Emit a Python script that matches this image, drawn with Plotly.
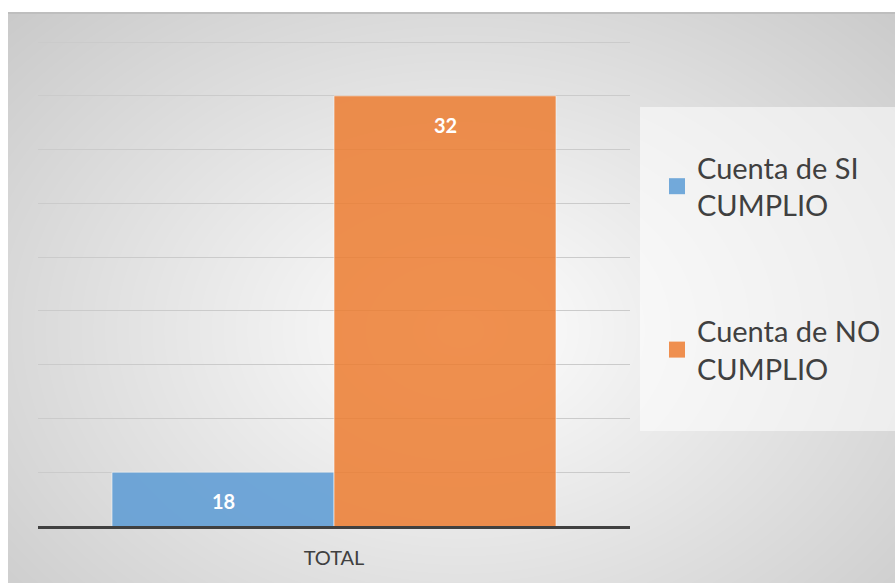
import base64, struct, zlib
import numpy as np
import plotly.graph_objects as go

# ---- data ----
categories = ["TOTAL"]
series_names = ["Cuenta de SI<br>CUMPLIO", "Cuenta de NO<br>CUMPLIO"]
series_values = [[18], [32]]
series_colors = ["#5B9BD5", "#ED7D31"]
y_min, y_max, y_step = 16, 34, 2

W, H = 895, 583
L, R, T, B = 38, 265, 34, 57
PW, PH = W - L - R, H - T - B
BARGAP = 0.25
FONT = "Lato, 'Open Sans', sans-serif"


# ---- background gradient image (style only) ----
def png_uri(arr):
    h, w, _ = arr.shape
    raw = b"".join(b"\x00" + arr[i].tobytes() for i in range(h))

    def chunk(tag, data):
        c = struct.pack(">I", len(data)) + tag + data
        return c + struct.pack(">I", zlib.crc32(tag + data) & 0xFFFFFFFF)

    png = b"\x89PNG\r\n\x1a\n" + chunk(b"IHDR", struct.pack(">IIBBBBB", w, h, 8, 2, 0, 0, 0))
    png += chunk(b"IDAT", zlib.compress(raw, 9)) + chunk(b"IEND", b"")
    return "data:image/png;base64," + base64.b64encode(png).decode()


yy, xx = np.mgrid[0:H, 0:W].astype(float)
d = np.sqrt(((xx - 460) / 450) ** 2 + ((yy - 330) / 330) ** 2)
v = 255 - 38 * d
# legend box lighter
box = (xx >= 640) & (yy >= 107) & (yy <= 430)
v = np.where(box, 255 - (255 - v) * 0.45, v)
v = np.clip(v, 0, 255)
v[(yy >= 12) & (yy < 14)] = 190
v[(yy < 12) | (xx < 8)] = 255
img = np.repeat(v[:, :, None], 3, axis=2).astype(np.uint8)

fig = go.Figure()
for name, vals, col in zip(series_names, series_values, series_colors):
    fig.add_trace(go.Bar(
        x=categories, y=vals, name=name, marker_color=col, opacity=0.85,
        marker_line=dict(color="rgba(255,255,255,0.6)", width=1),
        showlegend=False, hoverinfo="skip",
    ))
# legend entries with larger square swatches
for name, col in zip(series_names, series_colors):
    fig.add_trace(go.Scatter(
        x=[None], y=[None], mode="markers", name=name, legendgroup=name,
        marker=dict(symbol="square", size=16, color=col, opacity=0.85),
        hoverinfo="skip",
    ))

# data labels (inside end)
n = len(series_values)
for k, vals in enumerate(series_values):
    for i, val in enumerate(vals):
        xpos = i - (1 - BARGAP) / 2 + (1 - BARGAP) / n * (k + 0.5)
        fig.add_annotation(x=xpos, y=val, xref="x", yref="y", text=f"<b>{val}</b>",
                           showarrow=False, yshift=-29,
                           font=dict(family=FONT, size=20, color="white"))

fig.add_layout_image(dict(
    source=png_uri(img), xref="paper", yref="paper",
    x=-L / PW, y=1 + T / PH, sizex=W / PW, sizey=H / PH,
    xanchor="left", yanchor="top", sizing="stretch", layer="below",
))

fig.update_layout(
    width=W, height=H, autosize=False,
    margin=dict(l=L, r=R, t=T, b=B, autoexpand=False),
    paper_bgcolor="white", plot_bgcolor="rgba(0,0,0,0)",
    barmode="group", bargap=BARGAP, bargroupgap=0,
    font=dict(family=FONT, color="#404040"),
    showlegend=True,
    legend=dict(xref="container", yref="container", x=657 / W, y=1 - 142 / H,
                xanchor="left", yanchor="top",
                font=dict(family=FONT, size=29, color="#404040"),
                bgcolor="rgba(0,0,0,0)", tracegroupgap=85, itemwidth=30,
                itemsizing="trace"),
    xaxis=dict(showline=True, linecolor="#404040", linewidth=3, ticks="",
               tickfont=dict(family=FONT, size=20, color="#404040"),
               ticklabelstandoff=12, showgrid=False, fixedrange=True),
    yaxis=dict(range=[y_min, y_max + 0.3], dtick=y_step, tick0=y_min, showticklabels=False,
               showgrid=True, gridcolor="#cbcbcb", gridwidth=1.3, zeroline=False,
               showline=False, ticks="", fixedrange=True),
)

fig.write_html("out.html", config={"displayModeBar": False, "responsive": False})

# page style: no body margin / scrollbars
with open("out.html", encoding="utf-8") as f:
    html = f.read()
html = html.replace("<head>", "<head><style>html,body{margin:0;padding:0;overflow:hidden;}</style>", 1)
with open("out.html", "w", encoding="utf-8") as f:
    f.write(html)
